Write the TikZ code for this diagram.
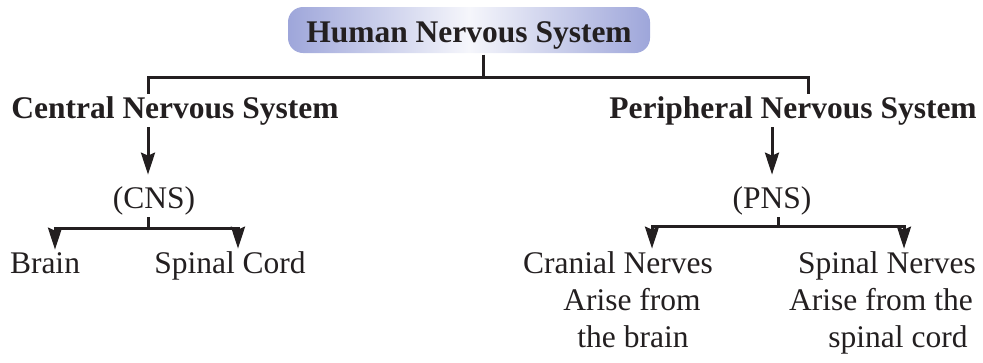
\documentclass[tikz,border=0pt]{standalone}
\usepackage{fontspec}
\setmainfont{Liberation Serif}
\usetikzlibrary{positioning,arrows.meta,calc}
\definecolor{boxblue}{RGB}{158,166,218}
\definecolor{ink}{RGB}{35,31,32}

\begin{document}
\begin{tikzpicture}[x=1pt,y=-1pt,>={Stealth[length=22pt,width=14pt,inset=3pt]},
  line width=3pt,color=ink,
  every node/.style={inner sep=1pt,font=\fontsize{31.5}{37}\selectfont},
  lbl/.style={anchor=base},
  head/.style={lbl,font=\fontsize{31.5}{37}\selectfont\bfseries},
  titlebox/.style={rounded corners=15pt,left color=boxblue,right color=boxblue,
    middle color=boxblue!10,minimum width=362pt,minimum height=46pt,
    text height=24pt,text depth=0pt,font=\fontsize{31.5}{37}\selectfont\bfseries}]
  \useasboundingbox (0,0) rectangle (983,362);
  \node[titlebox] (hns) at (469,30) {Human Nervous System};
  \node[head] (cns) at (175,118) {Central Nervous System};
  \node[head] (pns) at (793,118) {Peripheral Nervous System};
  \node[lbl] (cnsab) at (154,208) {(CNS)};
  \node[lbl] (pnsab) at (772,208) {(PNS)};
  \node[lbl] (brain) at (45,273) {Brain};
  \node[lbl] (scord) at (230,273) {Spinal Cord};
  \node[lbl] (cranial) at (618,273) {Cranial Nerves};
  \node[lbl] (cranial2) at (632,310) {Arise from};
  \node[lbl] (cranial3) at (633,347) {the brain};
  \node[lbl] (spinal) at (887,273) {Spinal Nerves};
  \node[lbl] (spinal2) at (881,310) {Arise from the};
  \node[lbl] (spinal3) at (898,347) {spinal cord};
  % junctions
  \coordinate (top) at (483,77);
  \coordinate (cj) at (148,77);
  \coordinate (pj) at (808,77);
  \coordinate (cb) at (55,228);
  \coordinate (cs) at (238,228);
  \coordinate (pm) at (778,226);
  \coordinate (pc) at (652,226);
  \coordinate (ps) at (904,226);
  \draw (hns.south -| top) -- (top);
  \draw (cj |- cns.north) -- (cj) -- (pj) -- (pj |- pns.north);
  \draw[->,shorten >=9pt] (cj |- cns.south) -- (cj |- cnsab.north);
  \draw[->,shorten >=9pt] (pnsab.north |- pns.south) -- (pnsab.north);
  \draw (cj |- cnsab.south) -- (cj |- cb);
  \draw[<->] (cb |- brain.north) -- (cb) -- (cs) -- (cs |- scord.north);
  \draw (pm |- pnsab.south) -- (pm);
  \draw[<->] (pc |- cranial.north) -- (pc) -- (ps) -- (ps |- spinal.north);
\end{tikzpicture}
\end{document}
